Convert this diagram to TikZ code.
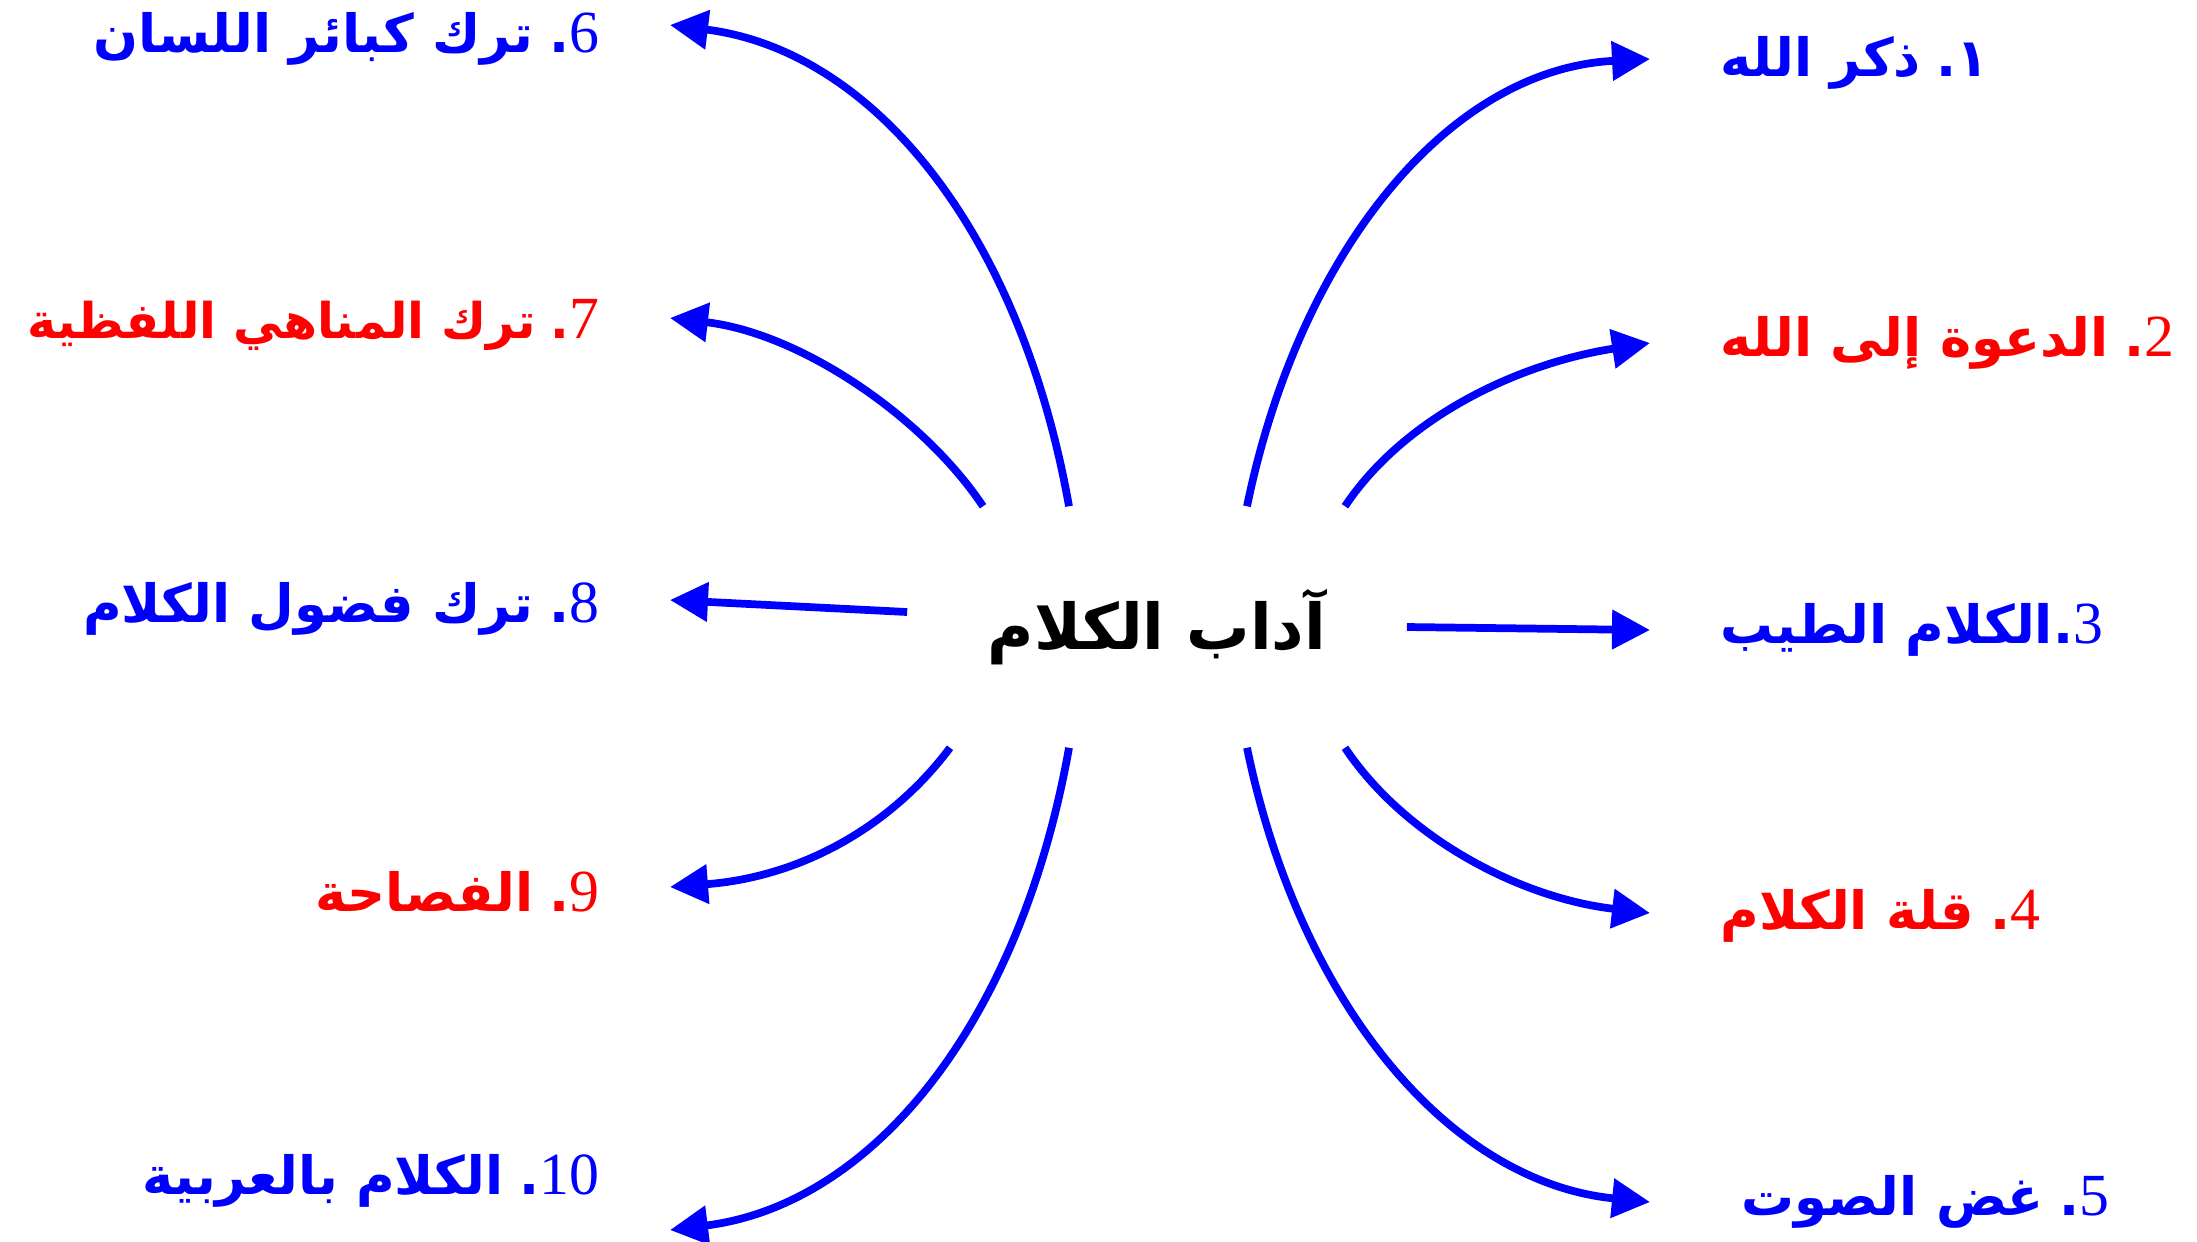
\documentclass[tikz,border=0pt]{standalone}
\usepackage{fontspec}
\usepackage{xcolor}
\usepackage{tikz}
\usetikzlibrary{arrows.meta, calc}
\TeXXeTstate=1
\newfontfamily\arabicfont[Script=Arabic]{DejaVu Sans}
\newfontfamily\digitfont{Liberation Serif}
\definecolor{itemblue}{rgb}{0.00, 0.00, 1.00}
\definecolor{itemred}{rgb}{1.00, 0.00, 0.00}
\newcommand{\arnum}[1]{\beginL{\digitfont\mdseries\fontsize{17}{21}\selectfont #1}\endL}
\newcommand{\gap}{\hspace{0.3em}}

\begin{document}
\begin{tikzpicture}[
  x=0.01cm, y=-0.01cm,
  hub/.style={
    rectangle, minimum width=4.98cm, minimum height=2.4cm,
    text=black, font=\arabicfont\bfseries\fontsize{18}{22}\selectfont
  },
  rlab/.style={
    anchor=west, inner xsep=0.7cm, inner ysep=0pt,
    font=\arabicfont\bfseries\fontsize{15}{19}\selectfont
  },
  llab/.style={
    anchor=east, inner xsep=0.7cm, inner ysep=0pt,
    font=\arabicfont\bfseries\fontsize{15}{19}\selectfont
  },
  link/.style={-{Triangle[length=10.8pt, width=10.8pt]}, line width=2.2pt, color=itemblue}
]
  \useasboundingbox (0,0) rectangle (2197,1241);

  % Central topic
  \node[hub] (adab) at (1157,627) {\beginR آداب الكلام\endR};

  % Items on the right
  \node[rlab, text=itemblue] (one)   at (1650,63)   {\beginR ١.\gap ذكر الله\endR};
  \node[rlab, text=itemred]  (two)   at (1650,343)  {\beginR\arnum{2}.\gap الدعوة إلى الله\endR};
  \node[rlab, text=itemblue] (three) at (1650,630)  {\beginR\arnum{3}.الكلام الطيب\endR};
  \node[rlab, text=itemred]  (four)  at (1650,916)  {\beginR\arnum{4}.\gap قلة الكلام\endR};
  \node[rlab, text=itemblue] (five)  at (1671,1202) {\beginR\arnum{5}.\gap غض الصوت\endR};

  % Items on the left
  \node[llab, text=itemblue] (six)   at (670,39)   {\beginR\arnum{6}.\gap ترك كبائر اللسان\endR};
  \node[llab, text=itemred, font=\arabicfont\bfseries\fontsize{14}{18}\selectfont]
        (seven) at (670,325)  {\beginR\arnum{7}.\gap ترك المناهي اللفظية\endR};
  \node[llab, text=itemblue] (eight) at (670,609)  {\beginR\arnum{8}.\gap ترك فضول الكلام\endR};
  \node[llab, text=itemred]  (nine)  at (670,892)  {\beginR\arnum{9}.\gap الفصاحة\endR};
  \node[llab, text=itemblue] (ten)   at (670,1181) {\beginR\arnum{10}.\gap الكلام بالعربية\endR};

  % Hub -> right items
  \draw[link] ($(adab.north)+(90,0)$)  .. controls +(53,-257) and +(-200,10) .. ($(one.west)+(0,-4)$);
  \draw[link] ($(adab.north)+(188,0)$) .. controls +(60,-90) and +(-130,20) .. (two.west);
  \draw[link] (adab.east) -- (three.west);
  \draw[link] ($(adab.south)+(188,0)$) .. controls +(60,90) and +(-130,-15) .. ($(four.west)+(0,-3)$);
  \draw[link] ($(adab.south)+(90,0)$)  .. controls +(53,257) and +(-200,-20) .. ($(five.west)+(-21,0)$);

  % Hub -> left items
  \draw[link] ($(adab.north)+(-88,0)$)  .. controls +(-50,-280) and +(200,25) .. ($(six.east)+(0,-14)$);
  \draw[link] ($(adab.north)+(-174,0)$) .. controls +(-60,-90) and +(130,15) .. ($(seven.east)+(0,-7)$);
  \draw[link] ($(adab.west)+(0,-15)$) -- ($(eight.east)+(0,-9)$);
  \draw[link] ($(adab.south)+(-207,0)$) .. controls +(-60,80) and +(130,-10) .. ($(nine.east)+(0,-5)$);
  \draw[link] ($(adab.south)+(-88,0)$)  .. controls +(-50,280) and +(200,-25) .. ($(ten.east)+(0,49)$);
\end{tikzpicture}
\end{document}
